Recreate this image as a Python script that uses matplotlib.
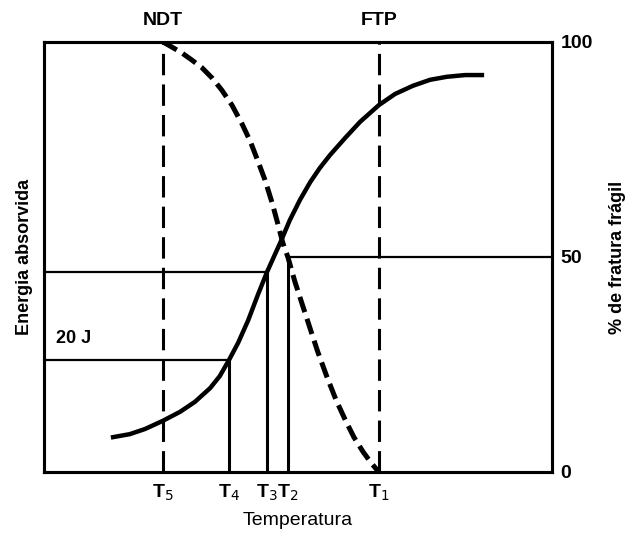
import matplotlib.pyplot as plt

plt.rcParams['font.family'] = ['Liberation Sans', 'DejaVu Sans']

# temperaturas de referência (unidades arbitrárias)
t_nomes = [r'T$_5$', r'T$_4$', r'T$_3$', r'T$_2$', r'T$_1$']
t_valores = [23.4, 36.4, 43.9, 48.0, 65.9]
t_ndt = 23.4
t_ftp = 65.9

# curva de energia absorvida
temp_energia = [13.6, 16.9, 19.9, 23.4, 26.8, 29.7, 32.7, 34.6, 36.4, 38.2,
                40.2, 42.1, 43.9, 45.5, 46.5, 48.4, 50.4, 52.4, 54.3, 56.3,
                59.3, 62.2, 65.9, 69.1, 72.6, 76.0, 79.3, 82.9, 86.2]
energia = [8.1, 8.8, 10.0, 11.9, 14.0, 16.3, 19.5, 22.3, 26.0, 30.0,
           35.3, 41.2, 46.5, 50.7, 53.3, 58.6, 63.3, 67.4, 70.7, 73.7,
           77.7, 81.4, 85.3, 87.9, 89.8, 91.2, 91.9, 92.3, 92.3]

# curva de % de fratura frágil
temp_fragil = [23.4, 25.2, 27.2, 29.1, 31.1, 33.1, 35.0, 37.0, 39.0, 40.6,
               42.1, 43.5, 44.9, 46.1, 47.0, 48.0, 49.4, 50.8, 52.4, 53.9,
               55.7, 57.5, 59.3, 61.0, 62.8, 64.4, 65.9]
fragil = [100, 98.8, 97.4, 95.8, 94.0, 91.6, 88.8, 85.3, 80.9, 76.9,
          72.3, 67.9, 62.6, 57.4, 53.3, 50.0, 44.2, 39.1, 33.3, 27.9,
          22.1, 16.7, 12.1, 8.1, 4.7, 2.1, 0]

energia_20j = 26.0     # energia em T4
energia_media = 46.5   # energia em T3
fragil_50 = 50

fig = plt.figure(figsize=(6.34, 5.42), dpi=100)
ax = fig.add_axes([0.0694, 0.1292, 0.8013, 0.7934])
ax.set_xlim(0, 100)
ax.set_ylim(0, 100)

# curva de energia
ax.plot(temp_energia, energia, color='black', lw=3.2, solid_joinstyle='round')

# linhas de T4 e T3
ax.plot([0, t_valores[1]], [energia_20j, energia_20j], color='black', lw=1.6)
ax.plot([t_valores[1], t_valores[1]], [energia_20j, 0], color='black', lw=2.2)
ax.plot([0, t_valores[2]], [energia_media, energia_media], color='black', lw=1.6)
ax.plot([t_valores[2], t_valores[2]], [energia_media, 0], color='black', lw=2.2)

# NDT e FTP tracejadas
ax.axvline(t_ndt, color='black', lw=2.2, dashes=(7, 3))
ax.axvline(t_ftp, color='black', lw=2.2, dashes=(7, 3))

ax.text(2.3, 29, '20 J', fontsize=13, fontweight='bold', ha='left', va='bottom')

for s in ax.spines.values():
    s.set_linewidth(2.2)
ax.set_yticks([])
ax.set_xticks(t_valores)
ax.set_xticklabels(t_nomes, fontsize=14, fontweight='bold')
ax.tick_params(axis='x', length=0, pad=8)
ax.set_xlabel('Temperatura', fontsize=14, labelpad=6)
ax.set_ylabel('Energia absorvida', fontsize=13, fontweight='bold', labelpad=8)

# eixo direito: % de fratura frágil
ax2 = ax.twinx()
ax2.set_ylim(0, 100)
ax2.plot(temp_fragil, fragil, color='black', lw=3.6, dashes=(3.2, 1.4))
ax2.plot([100, t_valores[3]], [fragil_50, fragil_50], color='black', lw=1.6)
ax2.plot([t_valores[3], t_valores[3]], [fragil_50, 0], color='black', lw=2.2)
ax2.set_yticks([0, 50, 100])
ax2.set_yticklabels(['0', '50', '100'], fontsize=14, fontweight='bold')
ax2.tick_params(axis='y', length=0, pad=6)
ax2.set_ylabel('% de fratura frágil', fontsize=13, fontweight='bold', labelpad=12)
for s in ax2.spines.values():
    s.set_linewidth(2.2)

# rótulos NDT e FTP no topo
ax.text(t_ndt, 103, 'NDT', fontsize=14, fontweight='bold', ha='center', va='bottom')
ax.text(t_ftp, 103, 'FTP', fontsize=14, fontweight='bold', ha='center', va='bottom')

fig.savefig('out.png', dpi=100)
